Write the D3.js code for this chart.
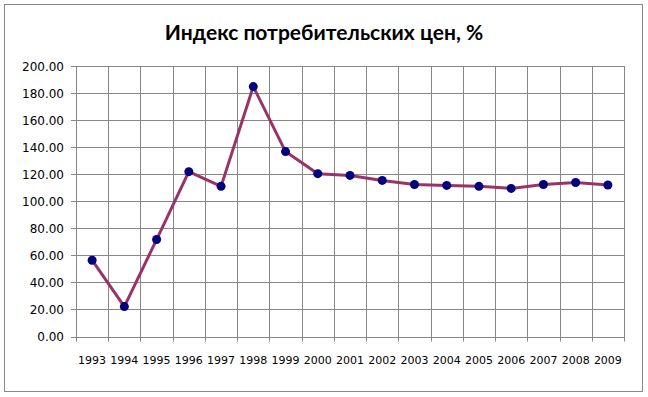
<!DOCTYPE html>
<html><head><meta charset="utf-8">
<script src="https://cdn.jsdelivr.net/npm/d3@7"></script>
<style>body{margin:0;background:#fff}svg{display:block}</style>
</head><body>
<svg id="c" width="648" height="397"></svg>
<script>
const title = "Индекс потребительских цен, %";
const years = ["1993","1994","1995","1996","1997","1998","1999","2000","2001","2002","2003","2004","2005","2006","2007","2008","2009"];
const values = [56.4,22.1,71.7,121.9,111.0,184.8,136.7,120.4,119.1,115.4,112.4,111.7,111.0,109.5,112.4,113.9,112.0];
const yTicks = [0,20,40,60,80,100,120,140,160,180,200];

const svg = d3.select("#c");
const W = 648, H = 397;
const m = {left:76, right:624, top:66, bottom:336.5};
const gridColor = "#878787";

svg.append("rect").attr("x",4.5).attr("y",4.5).attr("width",638).attr("height",387)
  .attr("fill","#fff").attr("stroke","#888").attr("stroke-width",1);

svg.append("text").attr("x",324).attr("y",40).attr("text-anchor","middle")
  .attr("font-family","Lato, 'Open Sans', sans-serif").attr("font-weight","bold")
  .attr("font-size",21).attr("fill","#000").text(title);

const x = d3.scaleBand().domain(years).range([m.left,m.right]);
const y = d3.scaleLinear().domain([0,200]).range([m.bottom,m.top]);

// horizontal gridlines
svg.append("g").selectAll("line").data(yTicks).join("line")
  .attr("x1",m.left-5).attr("x2",m.right).attr("y1",d=>Math.round(y(d))+0.5).attr("y2",d=>Math.round(y(d))+0.5)
  .attr("stroke",gridColor).attr("stroke-width",1);
// vertical gridlines at category boundaries
const bounds = years.map(d=>x(d)).concat([m.right]);
svg.append("g").selectAll("line").data(bounds).join("line")
  .attr("x1",d=>Math.round(d)+0.5).attr("x2",d=>Math.round(d)+0.5)
  .attr("y1",m.top).attr("y2",m.bottom+5)
  .attr("stroke",gridColor).attr("stroke-width",1);

// y labels
svg.append("g").selectAll("text").data(yTicks).join("text")
  .attr("x",64).attr("y",d=>y(d)+4.5).attr("text-anchor","end")
  .attr("font-family","'DejaVu Sans', sans-serif").attr("font-size",12).attr("fill","#000")
  .text(d=>d3.format(".2f")(d));
// x labels
svg.append("g").selectAll("text").data(years).join("text")
  .attr("x",d=>x(d)+x.bandwidth()/2).attr("y",364).attr("text-anchor","middle")
  .attr("font-family","'DejaVu Sans', sans-serif").attr("font-size",11).attr("fill","#000")
  .text(d=>d);

const line = d3.line().x((d,i)=>x(years[i])+x.bandwidth()/2).y(d=>y(d));
svg.append("path").datum(values).attr("d",line).attr("fill","none")
  .attr("stroke","#993366").attr("stroke-width",3).attr("stroke-linejoin","round");
svg.append("g").selectAll("circle").data(values).join("circle")
  .attr("cx",(d,i)=>x(years[i])+x.bandwidth()/2).attr("cy",d=>y(d)).attr("r",4.5)
  .attr("fill","#000080");
</script>
</body></html>
